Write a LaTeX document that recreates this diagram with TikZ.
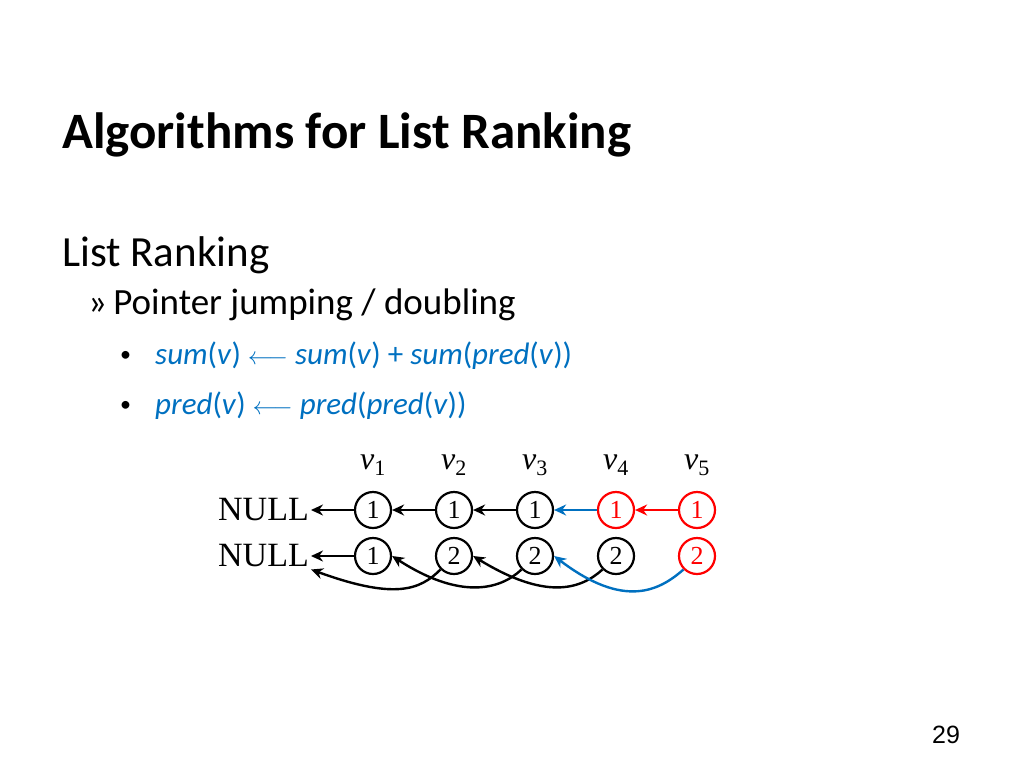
\documentclass[tikz,border=0pt]{standalone}
\usepackage{fontspec}
\setmainfont{Carlito}
\newfontfamily\timesfont{Liberation Serif}
\newfontfamily\arialfont{Liberation Sans}
\usetikzlibrary{arrows.meta,positioning}
\definecolor{ptrblue}{RGB}{0,112,192}
\tikzset{
  vtx/.style={draw, circle, line width=2.2pt, minimum size=36pt, inner sep=0pt, font=\timesfont\fontsize{26}{26}\selectfont},
  ptr/.style={-{Stealth[length=12pt,width=11pt]}, line width=2.4pt},
  lab/.style={font=\timesfont\fontsize{32}{32}\selectfont\itshape}
}
\begin{document}
\begin{tikzpicture}[x=1pt,y=-1pt]
  \useasboundingbox (0,0) rectangle (1024,768);
  % slide text
  \node[anchor=base west, inner sep=0pt, font=\fontsize{51}{51}\selectfont\bfseries] (title) at (62,148) {Algorithms for List Ranking};
  \node[anchor=base west, inner sep=0pt, font=\fontsize{43}{43}\selectfont] (head) at (62,266) {List Ranking};
  \node[anchor=base west, inner sep=0pt, font=\fontsize{37}{37}\selectfont] (sub) at (88,314) {»\,Pointer jumping / doubling};
  \node[anchor=base west, inner sep=0pt, font=\fontsize{22}{22}\selectfont] (b1) at (120,361) {•};
  \node[anchor=base west, inner sep=0pt, font=\fontsize{31}{31}\selectfont, text=ptrblue] (r1) at (155,364) {\textit{sum}(\textit{v}) $\longleftarrow$ \textit{sum}(\textit{v}) + \textit{sum}(\textit{pred}(\textit{v}))};
  \node[anchor=base west, inner sep=0pt, font=\fontsize{22}{22}\selectfont] (b2) at (120,411) {•};
  \node[anchor=base west, inner sep=0pt, font=\fontsize{31}{31}\selectfont, text=ptrblue] (r2) at (155,414) {\textit{pred}(\textit{v}) $\longleftarrow$ \textit{pred}(\textit{pred}(\textit{v}))};
  \node[anchor=base, inner sep=0pt, font=\arialfont\fontsize{25}{25}\selectfont] (page) at (946,743) {29};

  % list before and after one jump
  \node[anchor=east, inner sep=2pt, font=\timesfont\fontsize{34}{34}\selectfont] (n1) at (311,510) {NULL};
  \node[anchor=east, inner sep=2pt, font=\timesfont\fontsize{34}{34}\selectfont] (n2) at (311,556) {NULL};
  \foreach \i/\x in {1/373,2/454,3/535,4/616,5/697} {
    \node[lab] (l\i) at (\x,465) {v\textsubscript{\upshape\fontsize{22}{22}\selectfont\i}};
  }
  \node[vtx] (a1) at (373,510) {1};
  \node[vtx] (a2) at (454,510) {1};
  \node[vtx] (a3) at (535,510) {1};
  \node[vtx, red, text=red] (a4) at (616,510) {1};
  \node[vtx, red, text=red] (a5) at (697,510) {1};
  \node[vtx] (b1c) at (373,556) {1};
  \node[vtx] (b2c) at (454,556) {2};
  \node[vtx] (b3c) at (535,556) {2};
  \node[vtx] (b4c) at (616,556) {2};
  \node[vtx, red, text=red] (b5c) at (697,556) {2};

  \draw[ptr] (a1) -- (n1);
  \draw[ptr] (a2) -- (a1);
  \draw[ptr] (a3) -- (a2);
  \draw[ptr, ptrblue] (a4) -- (a3);
  \draw[ptr, red] (a5) -- (a4);
  \draw[ptr] (b1c) -- (n2);
  \draw[ptr] (b2c.225) .. controls (420,590) and (395,600) .. (n2.south east);
  \draw[ptr] (b3c.225) .. controls (500,590) and (460,600) .. (b1c.east);
  \draw[ptr] (b4c.225) .. controls (580,590) and (545,600) .. (b2c.east);
  \draw[ptr, ptrblue] (b5c.225) .. controls (660,590) and (625,610) .. (b3c.east);
\end{tikzpicture}
\end{document}
